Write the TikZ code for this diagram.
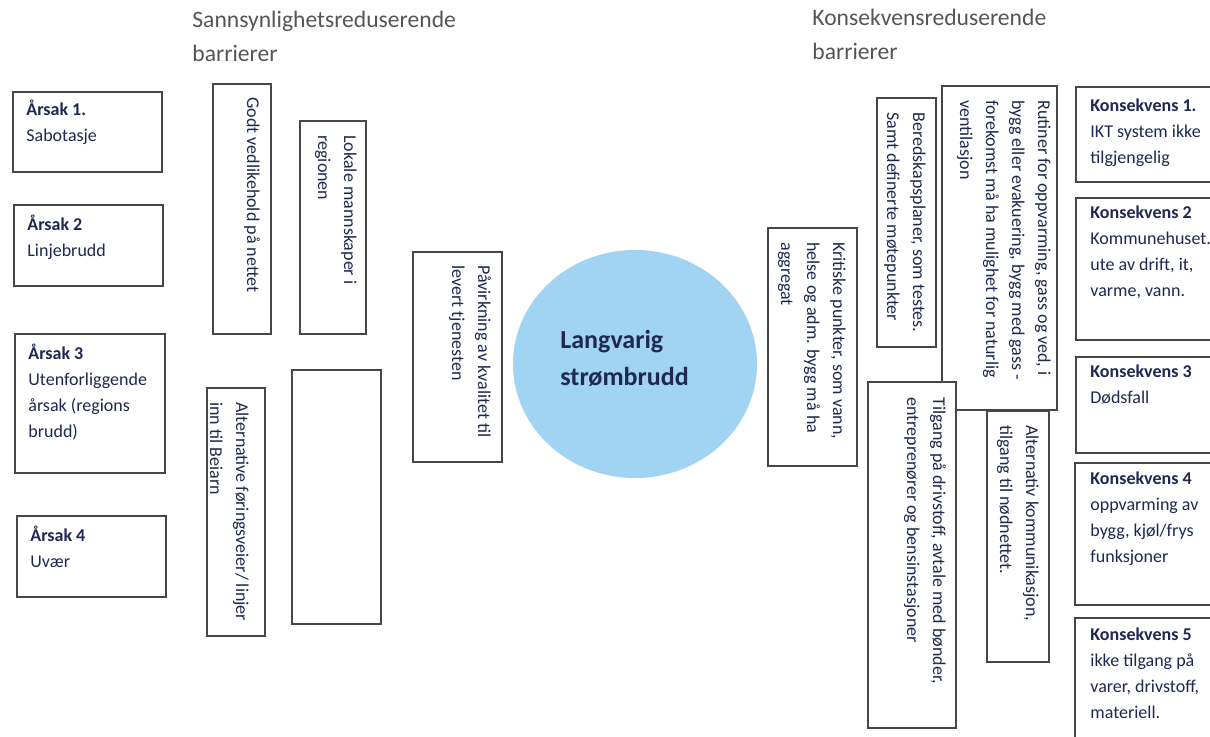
\documentclass[tikz,border=0pt]{standalone}
\usepackage{fontspec}
\setmainfont{Carlito}
\usetikzlibrary{fit,shapes.geometric}

\definecolor{navytext}{RGB}{30,40,80}
\definecolor{headgray}{RGB}{85,85,85}
\definecolor{boxgray}{RGB}{70,70,70}
\definecolor{bubble}{RGB}{160,212,242}

\begin{document}
\begin{tikzpicture}[x=0.5pt,y=0.5pt,line cap=rect]
  \tikzstyle{box}=[draw=boxgray,line width=0.8pt,fill=white,inner sep=0pt];
  \tikzstyle{htext}=[anchor=base west,inner sep=0pt,align=left,text=navytext,font=\fontsize{9}{13}\selectfont];
  \tikzstyle{vtext}=[htext,rotate=-90];
  \tikzstyle{header}=[anchor=base west,inner sep=0pt,align=left,text=headgray,font=\fontsize{11.8}{17}\selectfont];

  \useasboundingbox (0,0) rectangle (1210,-736);
  \clip (0,0) rectangle (1210,-736);

  % headers (base = last line)
  \node[header] (probhead) at (192,-61) {Sannsynlighetsreduserende\\barrierer};
  \node[header] (conshead) at (812,-59) {Konsekvensreduserende\\barrierer};

  % causes
  \node[box,fit={(13,-92) (162,-172)}] (cause1) {};
  \node[htext] (cause1txt) at (26,-141) {\textbf{Årsak 1.}\\Sabotasje};
  \node[box,fit={(14,-205) (163,-286)}] (cause2) {};
  \node[htext] (cause2txt) at (27,-256) {\textbf{Årsak 2}\\Linjebrudd};
  \node[box,fit={(15,-334) (165,-473)}] (cause3) {};
  \node[htext] (cause3txt) at (28,-437) {\textbf{Årsak 3}\\Utenforliggende\\årsak (regions\\brudd)};
  \node[box,fit={(17,-516) (166,-597)}] (cause4) {};
  \node[htext] (cause4txt) at (30,-567) {\textbf{Årsak 4}\\Uvær};

  % probability barriers
  \node[box,fit={(213,-84) (271,-334)}] (godt) {};
  \node[vtext] (godttxt) at (247,-97) {Godt vedlikehold på nettet};
  \node[box,fit={(300,-121) (366,-334)}] (lokale) {};
  \node[vtext] (lokaletxt) at (318,-135) {Lokale mannskaper i\\regionen};
  \node[box,fit={(292,-370) (381,-624)}] (empty) {};
  \node[box,fit={(207,-388) (265,-636)}] (foring) {};
  \node[vtext] (foringtxt) at (210,-402) {Alternative føringsveier/ linjer\\inn til Beiarn};
  \node[box,fit={(413,-252) (502,-462)}] (pavirk) {};
  \node[vtext] (pavirktxt) at (452,-265) {Påvirkning av kvalitet til\\levert tjenesten};

  % top event
  \node[ellipse,fill=bubble,inner sep=0pt,minimum width=122pt,minimum height=114pt] (event) at (635,-364) {};
  \node[anchor=base west,inner sep=0pt,align=left,text=navytext,font=\fontsize{13}{18.5}\selectfont\bfseries] (eventtxt) at (560,-385) {Langvarig\\strømbrudd};

  % consequence barriers
  \node[box,fit={(768,-228) (857,-466)}] (kritiske) {};
  \node[vtext] (kritisketxt) at (781,-242) {Kritiske punkter, som vann,\\helse og adm. bygg må ha\\aggregat};
  \node[box,fit={(877,-98) (936,-347)}] (beredskap) {};
  \node[vtext] (beredskaptxt) at (887,-112) {Beredskapsplaner, som testes.\\Samt definerte møtepunkter};
  \node[box,fit={(987,-411) (1049,-662)}] (altkomm) {};
  \node[vtext] (altkommtxt) at (1000,-425) {Alternativ kommunikasjon,\\tilgang til nødnettet.};
  \node[box,fit={(942,-86) (1057,-410)}] (rutiner) {};
  \node[vtext] (rutinertxt) at (960,-100) {Rutiner for oppvarming, gass og ved, i\\bygg eller evakuering, bygg med gass -\\forekomst må ha mulighet for naturlig\\ventilasjon};
  \node[box,fit={(868,-382) (956,-728)}] (tilgang) {};
  \node[vtext] (tilgangtxt) at (907,-397) {Tilgang på drivstoff, avtale med bønder,\\entreprenører og bensinstasjoner};

  % consequences
  \node[box,fit={(1076,-87) (1220,-182)}] (cons1) {};
  \node[htext] (cons1txt) at (1090,-163) {\textbf{Konsekvens 1.}\\IKT system ikke\\tilgjengelig};
  \node[box,fit={(1076,-198) (1220,-340)}] (cons2) {};
  \node[htext] (cons2txt) at (1090,-296) {\textbf{Konsekvens 2}\\Kommunehuset.\\ute av drift, it,\\varme, vann.};
  \node[box,fit={(1076,-357) (1220,-453)}] (cons3) {};
  \node[htext] (cons3txt) at (1090,-403) {\textbf{Konsekvens 3}\\Dødsfall};
  \node[box,fit={(1075,-463) (1220,-605)}] (cons4) {};
  \node[htext] (cons4txt) at (1090,-562) {\textbf{Konsekvens 4}\\oppvarming av\\bygg, kjøl/frys\\funksjoner};
  \node[box,fit={(1075,-618) (1220,-750)}] (cons5) {};
  \node[htext] (cons5txt) at (1090,-718) {\textbf{Konsekvens 5}\\ikke tilgang på\\varer, drivstoff,\\materiell.};
\end{tikzpicture}
\end{document}
